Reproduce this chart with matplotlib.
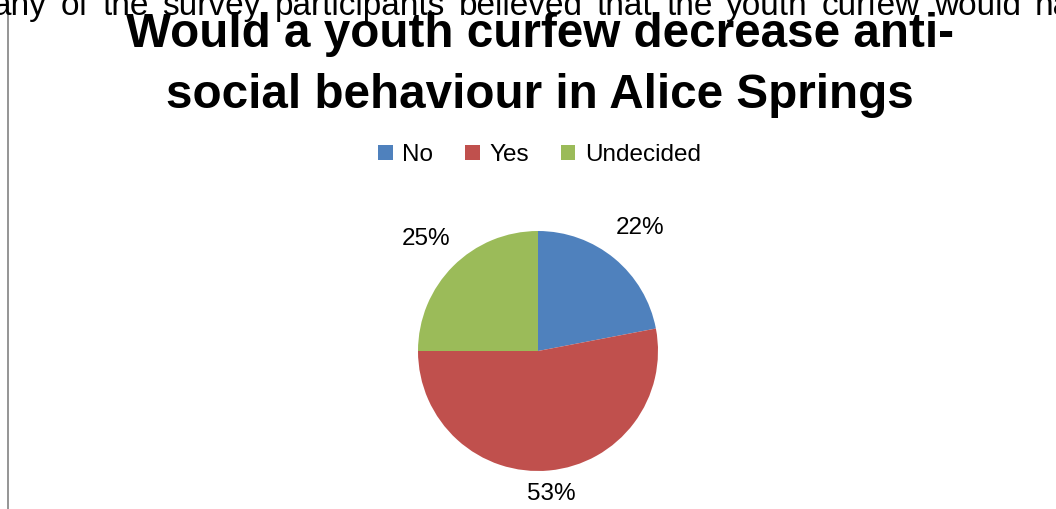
import numpy as np
import matplotlib
matplotlib.use("Agg")
import matplotlib.pyplot as plt

# chart data
labels = ["No", "Yes", "Undecided"]
shares = [22, 53, 25]
colors = ["#4F81BD", "#C0504D", "#9BBB59"]
label_dist = [1.33, 1.2, 1.32]

title_lines = ["Would a youth curfew decrease anti-",
               "social behaviour in Alice Springs"]
body_text = "any of the survey participants believed that the youth curfew would hav"

plt.rcParams["font.family"] = ["Liberation Sans", "DejaVu Sans"]

W, H = 1056, 509
fig = plt.figure(figsize=(W / 100, H / 100), dpi=100)

# full-page axes in pixel units for the page text
page = fig.add_axes([0, 0, 1, 1])
page.set_xlim(0, W)
page.set_ylim(H, 0)
page.axis("off")

page.plot([8, 8], [14, H], color="#8c8c8c", lw=1.3)

# justified line of document text, cut off at the top
renderer = fig.canvas.get_renderer()
x = -7
for word in body_text.split():
    t = page.text(x, 15, word, fontsize=24, ha="left", va="baseline")
    x += t.get_window_extent(renderer).width + 13.8

# title
page.text(540, 47, title_lines[0], fontsize=34.3, fontweight="bold",
          ha="center", va="baseline")
page.text(540, 108, title_lines[1], fontsize=34.3, fontweight="bold",
          ha="center", va="baseline")

# pie
cx, cy, r = 538, 351, 120
ax = fig.add_axes([(cx - r) / W, (H - cy - r) / H, 2 * r / W, 2 * r / H])
wedges, _ = ax.pie(shares, colors=colors, startangle=90, counterclock=False,
                   wedgeprops=dict(linewidth=0))
ax.set_xlim(-1, 1)
ax.set_ylim(-1, 1)

for w, v, d in zip(wedges, shares, label_dist):
    ang = np.deg2rad((w.theta1 + w.theta2) / 2)
    ax.text(d * np.cos(ang), d * np.sin(ang), f"{v}%", fontsize=17.5,
            ha="center", va="center")

fig.legend(wedges, labels, loc="center", bbox_to_anchor=(539.5 / W, 1 - 155 / H),
           ncol=3, frameon=False, fontsize=17.5, handlelength=0.6, handleheight=0.6,
           handletextpad=0.4, columnspacing=1.3, borderpad=0)

fig.savefig("out.png", dpi=100)
